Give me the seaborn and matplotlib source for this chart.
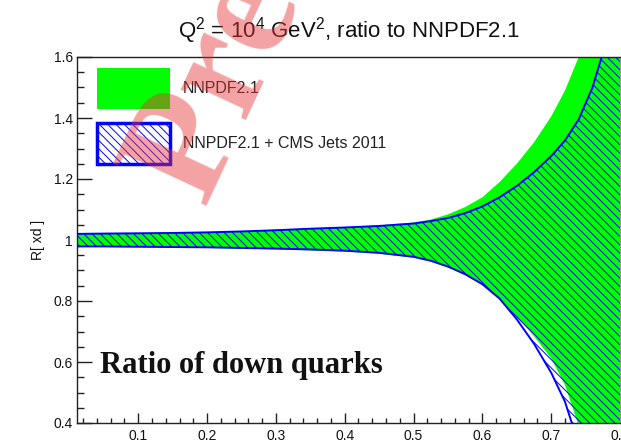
import numpy as np
import pandas as pd
import matplotlib
matplotlib.use("Agg")
import matplotlib.pyplot as plt
from matplotlib.patches import Patch
from matplotlib.ticker import FixedLocator, FixedFormatter, MultipleLocator
import seaborn as sns

# ---------------- data ----------------
x_vals = [0.01, 0.05, 0.1, 0.15, 0.2, 0.25, 0.3, 0.35, 0.4, 0.45, 0.5, 0.525,
          0.55, 0.575, 0.6, 0.625, 0.65, 0.675, 0.7, 0.72, 0.74, 0.76, 0.78, 0.8]

nnpdf_hi = [1.022, 1.022, 1.022, 1.023, 1.025, 1.029, 1.034, 1.038, 1.042, 1.048,
            1.057, 1.067, 1.084, 1.108, 1.140, 1.190, 1.250, 1.320, 1.405, 1.49,
            1.60, 1.74, 1.91, 2.11]
nnpdf_lo = [0.977, 0.977, 0.976, 0.975, 0.974, 0.972, 0.969, 0.966, 0.962, 0.955,
            0.942, 0.929, 0.910, 0.885, 0.853, 0.810, 0.748, 0.685, 0.612, 0.525,
            0.39, 0.22, 0.02, -0.22]

cms_hi = [1.020, 1.021, 1.022, 1.023, 1.025, 1.028, 1.032, 1.037, 1.041, 1.046,
          1.054, 1.062, 1.072, 1.088, 1.110, 1.140, 1.177, 1.222, 1.275, 1.326,
          1.395, 1.50, 1.65, 1.86]
cms_lo = [0.979, 0.979, 0.978, 0.977, 0.976, 0.974, 0.972, 0.969, 0.965, 0.958,
          0.945, 0.932, 0.913, 0.888, 0.855, 0.808, 0.740, 0.660, 0.565, 0.47,
          0.33, 0.16, -0.05, -0.30]

series_labels = ["NNPDF2.1", "NNPDF2.1 + CMS Jets 2011"]
xtick_vals = [0.1, 0.2, 0.3, 0.4, 0.5, 0.6, 0.7, 0.8]
xtick_labels = ["0.1", "0.2", "0.3", "0.4", "0.5", "0.6", "0.7", "0.8"]
ytick_vals = [0.4, 0.6, 0.8, 1.0, 1.2, 1.4, 1.6]
ytick_labels = ["0.4", "0.6", "0.8", "1", "1.2", "1.4", "1.6"]
title_text = r"Q$^2$ = 10$^4$ GeV$^2$, ratio to NNPDF2.1"
ylabel_text = "R[ xd ]"
annot_text = "Ratio of down quarks"
watermark_text = "Pre"

# ---------------- style ----------------
sns.set_style("ticks")
plt.rcParams["font.family"] = ["Liberation Sans", "DejaVu Sans"]
plt.rcParams["mathtext.fontset"] = "custom"
plt.rcParams["mathtext.rm"] = "Liberation Sans"
plt.rcParams["mathtext.it"] = "Liberation Sans:italic"
plt.rcParams["mathtext.bf"] = "Liberation Sans:bold"
plt.rcParams["hatch.linewidth"] = 0.7

GREEN = "#00ff00"
BLUE = "#0000ff"

df = pd.DataFrame({"x": x_vals, "nn_hi": nnpdf_hi, "nn_lo": nnpdf_lo,
                   "cms_hi": cms_hi, "cms_lo": cms_lo})

fig = plt.figure(figsize=(6.21, 4.43), dpi=100)
ax = fig.add_axes([77 / 621, 20 / 443, (620 - 77) / 621, (423 - 57) / 443])

# green band (NNPDF2.1)
ax.fill_between(df["x"], df["nn_lo"], df["nn_hi"], facecolor=GREEN,
                edgecolor="none", linewidth=0, zorder=1)
# hatched band (NNPDF2.1 + CMS jets)
ax.fill_between(df["x"], df["cms_lo"], df["cms_hi"], facecolor="none",
                edgecolor=BLUE, hatch="\\\\\\\\", linewidth=0, zorder=2)
# blue outlines through seaborn
sns.lineplot(data=df, x="x", y="cms_hi", color=BLUE, linewidth=1.4, ax=ax,
             zorder=3, sort=False)
sns.lineplot(data=df, x="x", y="cms_lo", color=BLUE, linewidth=1.4, ax=ax,
             zorder=3, sort=False)

ax.set_xlim(0.011, 0.8)
ax.set_ylim(0.4, 1.6)

ax.xaxis.set_major_locator(FixedLocator(xtick_vals))
ax.xaxis.set_major_formatter(FixedFormatter(xtick_labels))
ax.xaxis.set_minor_locator(MultipleLocator(0.02))
ax.yaxis.set_major_locator(FixedLocator(ytick_vals))
ax.yaxis.set_major_formatter(FixedFormatter(ytick_labels))
ax.yaxis.set_minor_locator(MultipleLocator(0.05))

ax.tick_params(axis="x", which="major", direction="in", length=7.5, width=1.0,
               labelsize=10, pad=4.5, color="#222222", labelcolor="#111111")
ax.tick_params(axis="x", which="minor", direction="in", length=3.8, width=1.0,
               color="#222222")
ax.tick_params(axis="y", which="major", direction="in", length=11, width=1.0,
               labelsize=10, pad=3, color="#222222", labelcolor="#111111")
ax.tick_params(axis="y", which="minor", direction="in", length=5, width=1.0,
               color="#222222")

for side in ["left", "bottom", "top", "right"]:
    ax.spines[side].set_visible(True)
    ax.spines[side].set_color("#222222")
    ax.spines[side].set_linewidth(1.0)
ax.spines["right"].set_color("#999999")

ax.set_xlabel("")
ax.set_ylabel(ylabel_text, fontsize=10, color="#111111")
ax.yaxis.set_label_coords((45 - 77) / 543, 0.5)

ax.text(0.5, (423 - 37) / 366, title_text, transform=ax.transAxes,
        ha="center", va="baseline", fontsize=16, color="#111111")

ax.text((100 - 77) / 543, (423 - 373) / 366, annot_text, transform=ax.transAxes,
        ha="left", va="baseline", fontsize=22, fontweight="bold",
        family=["Liberation Serif", "DejaVu Serif"], color="#111111", zorder=5)

handles = [Patch(facecolor=GREEN, edgecolor="none", linewidth=0),
           Patch(facecolor="white", edgecolor=BLUE, hatch="\\\\\\\\", linewidth=2.5)]
fs = 11.5
fpx = fs * 100 / 72
hh = (41 / fpx - 0.245) / 0.65
leg = ax.legend(handles, series_labels, loc="upper left",
                bbox_to_anchor=((97 - 77) / 543, 1 - (68 - 57) / 366),
                frameon=False, fontsize=fs, borderpad=0, borderaxespad=0,
                handlelength=73 / fpx, handleheight=hh,
                labelspacing=(55 - 41) / fpx,
                handletextpad=13 / fpx)
for t in leg.get_texts():
    t.set_color("#222222")

# watermark
fig.text(203 / 621, 1 - 207 / 443, watermark_text, rotation=65,
         rotation_mode="anchor", ha="left", va="baseline", fontsize=112,
         fontweight="bold", family=["Liberation Serif", "DejaVu Serif"],
         color=(0.90, 0.20, 0.20), alpha=0.45, zorder=20)

fig.savefig("out.png", dpi=100)
